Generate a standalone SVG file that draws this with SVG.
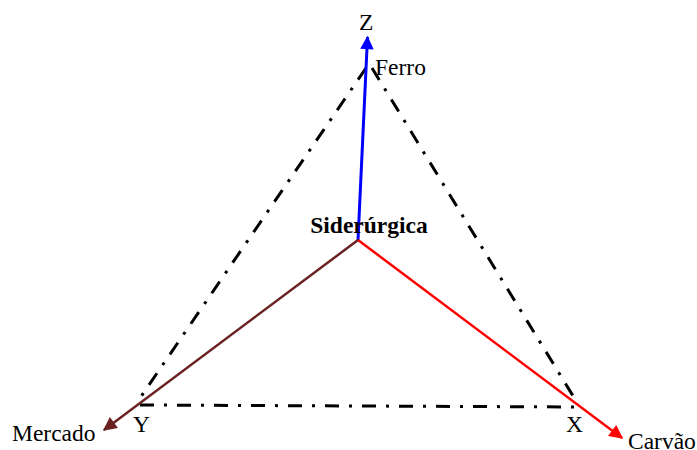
<svg xmlns="http://www.w3.org/2000/svg" width="697" height="450" viewBox="0 0 697 450">
<style>
.t{font-family:'Liberation Serif','Times New Roman',serif;font-size:23.5px;fill:#000}
.b{font-weight:bold}
.dd{fill:none;stroke:#000;stroke-width:3;stroke-dasharray:14 10 3 10}
</style>
<defs>
<marker id="mb" viewBox="0 0 10 10" refX="9" refY="5" markerWidth="5.5" markerHeight="4.5" orient="auto" markerUnits="strokeWidth"><path d="M0,0L10,5L0,10z" fill="#0000ff"/></marker>
<marker id="mr" viewBox="0 0 10 10" refX="9" refY="5" markerWidth="6.5" markerHeight="5.5" orient="auto" markerUnits="strokeWidth"><path d="M0,0L10,5L0,10z" fill="#ff0000"/></marker>
<marker id="mm" viewBox="0 0 10 10" refX="9" refY="5" markerWidth="6.5" markerHeight="5.5" orient="auto" markerUnits="strokeWidth"><path d="M0,0L10,5L0,10z" fill="#6b2222"/></marker>
</defs>
<g id="triangle">
<path class="dd" d="M366,68 L140,398"/>
<path class="dd" d="M372,68 L578,404"/>
<path class="dd" d="M140,405 L580,407"/>
</g>
<g id="connectors">
<line x1="358" y1="240" x2="367.5" y2="37" stroke="#0000ff" stroke-width="3" marker-end="url(#mb)"/>
<line x1="358" y1="240" x2="104" y2="430" stroke="#6b2222" stroke-width="2.5" marker-end="url(#mm)"/>
<line x1="358" y1="240" x2="622" y2="438" stroke="#ff0000" stroke-width="2.5" marker-end="url(#mr)"/>
</g>
<g id="center"><text class="t b" x="369" y="233" text-anchor="middle">Siderúrgica</text></g>
<g id="z"><text class="t" x="359" y="30">Z</text><text class="t" x="375" y="75">Ferro</text></g>
<g id="y"><text class="t" x="12" y="441">Mercado</text><text class="t" x="133" y="432">Y</text></g>
<g id="x"><text class="t" x="566" y="432">X</text><text class="t" x="628" y="449">Carvão</text></g>
</svg>
